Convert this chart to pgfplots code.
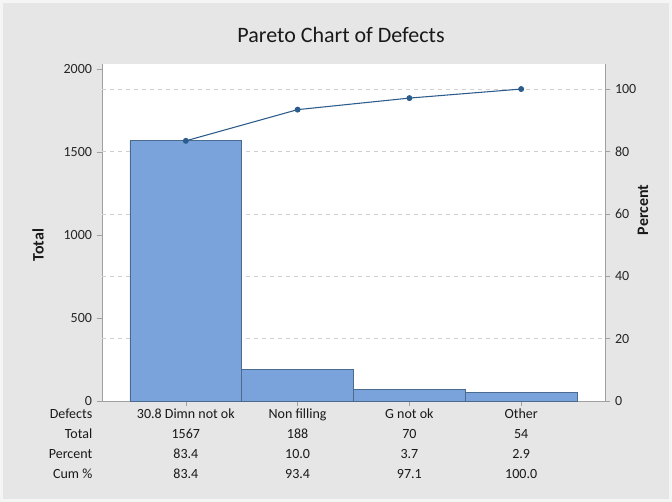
\documentclass[border=0pt]{standalone}
\usepackage{pgfplots}
\pgfplotsset{compat=1.18}
\usepackage{fontspec}
\setmainfont{Carlito}
\definecolor{bg}{HTML}{E6E6E6}
\definecolor{barfill}{HTML}{7BA3DB}
\definecolor{baredge}{HTML}{4A6A8E}
\definecolor{linec}{HTML}{2C5C8C}
\definecolor{axc}{HTML}{A0A0A0}
\definecolor{gridc}{HTML}{D0D0D0}
\begin{document}
\begin{tikzpicture}
\fill[bg] (0pt,0pt) rectangle (504pt,376.5pt);
\draw[white!60!bg, line width=2.25pt] (1.125pt,1.125pt) rectangle (502.875pt,375.375pt);
\begin{axis}[
  at={(76.5pt,75.75pt)}, anchor=south west,
  scale only axis, width=377.25pt, height=252.75pt,
  xmin=-0.75, xmax=3.75,
  ymin=0, ymax=2030,
  axis background/.style={fill=white},
  axis line style={axc},
  axis y line*=left, axis x line*=bottom,
  ytick={0,500,1000,1500,2000},
  extra y ticks={375.8,751.6,1127.4,1503.2,1879},
  extra y tick style={grid=major, major tick length=0pt, yticklabels={}},
  major grid style={gridc, dashed},
  xtick={0,1,2,3},
  xticklabels={
    {30.8 Dimn not ok\\1567\\83.4\\83.4},
    {Non filling\\188\\10.0\\93.4},
    {G not ok\\70\\3.7\\97.1},
    {Other\\54\\2.9\\100.0}},
  xticklabel style={align=center, font=\fontsize{10.5}{15}\selectfont, text=black!90, anchor=north, yshift=1.5pt},
  yticklabel style={font=\fontsize{10.5}{12}\selectfont, text=black!85},
  tick style={axc},
  major tick length=4pt,
  tick align=outside,
  /pgf/number format/assume math mode=true,
  /pgf/number format/1000 sep={},
  clip=false,
]
\addplot[ybar, bar width=1, fill=barfill, draw=baredge, line width=0.6pt]
  coordinates {(0,1567) (1,188) (2,70) (3,54)};
\node[anchor=north east, align=right, font=\fontsize{10.5}{15}\selectfont, text=black!90, inner sep=0.333em]
  at ([yshift=1.5pt-4pt]rel axis cs:-0.01,0) {Defects\\Total\\Percent\\Cum \%};
\end{axis}
\begin{axis}[
  at={(76.5pt,75.75pt)}, anchor=south west,
  scale only axis, width=377.25pt, height=252.75pt,
  xmin=-0.75, xmax=3.75,
  ymin=0, ymax=108.03,
  axis x line=none,
  axis y line*=right,
  axis line style={axc},
  ytick={0,20,40,60,80,100},
  yticklabel style={font=\fontsize{10.5}{12}\selectfont, text=black!85},
  tick style={axc},
  major tick length=4pt,
  tick align=outside,
  /pgf/number format/assume math mode=true,
]
\addplot[linec, line width=0.8pt, mark=*, mark size=1.8pt, mark options={fill=linec}]
  coordinates {(0,83.4) (1,93.4) (2,97.1) (3,100)};
\end{axis}
\node[font=\fontsize{16.5}{19}\selectfont, text=black!90] at (255.75pt,350.25pt) {Pareto Chart of Defects};
\node[rotate=90, font=\bfseries\fontsize{12}{14}\selectfont, text=black!90] at (28.5pt,192.75pt) {Total};
\node[rotate=90, font=\bfseries\fontsize{12}{14}\selectfont, text=black!90] at (482.25pt,219pt) {Percent};
\end{tikzpicture}
\end{document}
